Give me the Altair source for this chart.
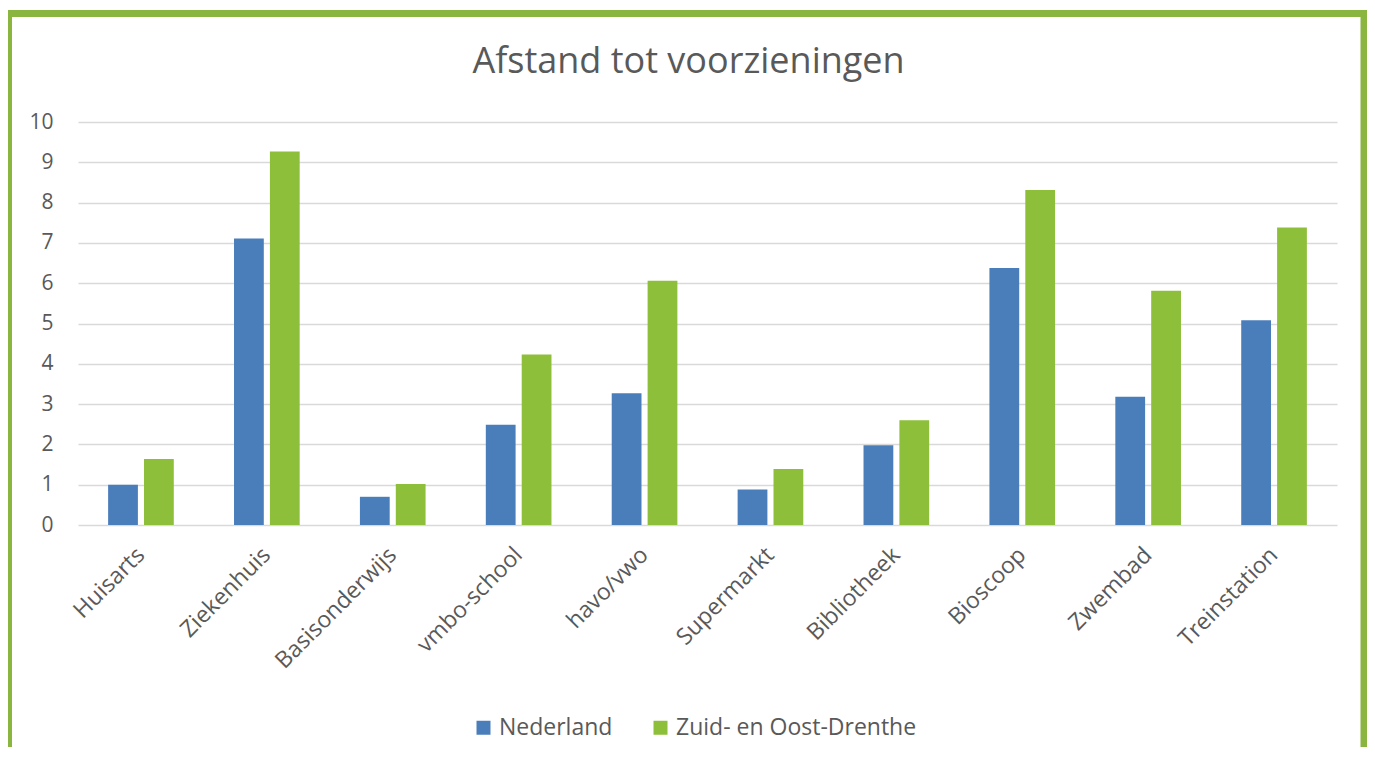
import altair as alt
import pandas as pd

categories = ["Huisarts", "Ziekenhuis", "Basisonderwijs", "vmbo-school", "havo/vwo",
              "Supermarkt", "Bibliotheek", "Bioscoop", "Zwembad", "Treinstation"]
nederland = [1.0, 7.11, 0.70, 2.49, 3.27, 0.88, 1.98, 6.38, 3.18, 5.08]
zuid_oost_drenthe = [1.64, 9.27, 1.02, 4.23, 6.06, 1.39, 2.60, 8.31, 5.81, 7.38]
series = ["Nederland", "Zuid- en Oost-Drenthe"]
colors = ["#4a7ebb", "#8dbf3a"]
title_text = "Afstand tot voorzieningen"

rows = []
for i, c in enumerate(categories):
    rows.append({"voorziening": c, "gebied": series[0], "afstand": nederland[i]})
    rows.append({"voorziening": c, "gebied": series[1], "afstand": zuid_oost_drenthe[i]})
df = pd.DataFrame(rows)

FONT = "Open Sans"
GREY = "#595959"

bars = alt.Chart(df).mark_bar().encode(
    x=alt.X("voorziening:N", sort=categories,
            scale=alt.Scale(paddingInner=0.43, paddingOuter=0.215),
            axis=alt.Axis(title=None, labelAngle=-45, labelAlign="right",
                          labelBaseline="middle", labelPadding=26, ticks=False,
                          domain=False, grid=False, labelFontSize=23,
                          labelColor=GREY, labelFont=FONT)),
    xOffset=alt.XOffset("gebied:N", sort=series,
                        scale=alt.Scale(paddingInner=0.17, paddingOuter=0.085)),
    y=alt.Y("afstand:Q", scale=alt.Scale(domain=[0, 10], nice=False),
            axis=alt.Axis(title=None, values=list(range(11)), grid=True,
                          gridColor="#d9d9d9", gridWidth=1.5, domain=False,
                          ticks=False, labelPadding=25, labelFontSize=21,
                          labelColor=GREY, labelFont=FONT)),
    color=alt.Color("gebied:N", sort=series,
                    scale=alt.Scale(domain=series, range=colors),
                    legend=alt.Legend(title=None, orient="none", direction="horizontal",
                                      legendX=394, legendY=594, symbolType="square",
                                      symbolSize=196, symbolStrokeWidth=0,
                                      labelFontSize=23, labelColor=GREY, labelFont=FONT,
                                      labelLimit=500, labelOffset=4, columnPadding=36)),
)

title = alt.Chart(alt.Data(values=[{"t": title_text}])).mark_text(
    font=FONT, fontSize=36, color=GREY, align="center", baseline="alphabetic"
).encode(text="t:N", x=alt.value(610.5), y=alt.value(-49))

border = alt.Chart(alt.Data(values=[{"k": 1}])).mark_rect(
    fill="transparent", stroke="#8ab640", strokeWidth=7
).encode(
    x=alt.value(-69.5), x2=alt.value(1286), y=alt.value(-108.5), y2=alt.value(640)
)

chart = alt.layer(bars, title, border).properties(
    width=1259, height=403,
    autosize=alt.AutoSizeParams(type="none"),
    padding={"left": 70, "top": 114, "right": 30, "bottom": 222},
).configure(background="white").configure_view(stroke=None)

chart.save("out.html", embed_options={"renderer": "svg", "actions": False})
